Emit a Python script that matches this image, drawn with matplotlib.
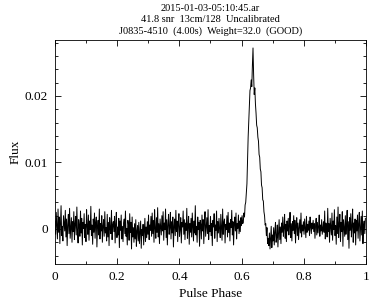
import numpy as np
import matplotlib
matplotlib.use("Agg")
import matplotlib.pyplot as plt
from matplotlib.ticker import MultipleLocator, FuncFormatter

# header lines of the archive plot
title_lines = ["2015-01-03-05:10:45.ar",
               "41.8 snr  13cm/128  Uncalibrated",
               "J0835-4510  (4.00s)  Weight=32.0  (GOOD)"]

# profile, 512 phase bins, flux in units of 1e-4
flux_e4 = [
    12, -8, 25, 3, -15, 30, -5, 18, -22, 7, 35, -10, 4, -18, 20, 9,
    -3, 28, -12, 15, -25, 6, 22, -7, 31, -14, 2, 17, -20, 11, -4, 26,
    -16, 8, 19, -9, 33, -2, -21, 14, 5, -11, 27, -6, 16, -24, 10, 1,
    23, -13, 7, -19, 29, 4, -8, 21, -17, 12, -1, 34, -10, 6, -23, 15,
    -5, 24, -14, 9, 18, -27, 3, 13, -9, 30, -15, 8, -3, 20, -20, 5,
    14, -11, 26, -6, 2, -18, 22, -12, 10, -25, 17, 0, -7, 28, -16, 6,
    11, -4, 19, -21, 8, 25, -13, 3, -9, 16, -28, 12, -2, 21, -15, 4,
    -19, 9, 15, -7, 27, -11, 1, -24, 13, 6, -17, 23, -5, 10, -30, 18,
    -12, 2, -20, 8, -15, 14, -26, -3, 5, -18, 10, -22, -6, 12, -29, -1,
    -10, 7, -24, -4, 16, -19, 3, -13, 11, -8, 21, -16, 6, -2, 19, -11,
    24, -7, 13, -20, 29, 1, -14, 17, -5, 32, -12, 8, -22, 15, 4, -9,
    20, -3, 26, -17, 9, -1, 30, -13, 14, -24, 7, 22, -8, 2, 25, -15,
    11, -6, 18, -27, 5, 15, -10, 28, -4, 12, -19, 6, 23, -11, 0, 17,
    -21, 10, 3, 27, -8, 14, -16, 9, -2, 31, -14, 5, 19, -23, 8, -5,
    16, -12, 24, 1, -18, 12, -6, 35, -9, 4, -20, 18, -1, 10, -26, 13,
    7, -15, 21, -3, 14, -22, 9, 26, -11, 2, 17, -7, 29, -16, 5, -4,
    19, -10, 8, -25, 13, 3, 23, -14, 6, -2, 27, -19, 11, -6, 16, 0,
    -13, 22, 4, -17, 30, -8, 10, 15, -21, 7, -1, 20, -12, 25, -5, 9,
    -18, 14, 2, 28, -9, 11, -24, 6, 18, -3, 24, -15, 8, 1, 21, -7,
    12, -4, 17, 5, 20, 8, 10, 24, 18, 36, 40, 55, 68, 104, 138, 160,
    182, 208, 212, 224, 214, 246, 272, 232, 202, 212, 188, 174, 156, 152, 138, 132,
    112, 108, 90, 86, 66, 62, 44, 42, 26, 20, 6, 8, -10, 2, -22, -14,
    -25, -6, -30, -12, 4, -28, -9, -18, 2, -24, -4, 10, -20, -13, 6, -27,
    -8, 14, -16, 3, -22, 9, -5, 18, -11, 1, 22, -14, 7, -19, 12, -3,
    16, -9, 5, 25, -13, 8, -18, 11, -2, 20, -7, 13, -21, 4, 17, -10,
    9, -16, 2, 14, -6, 24, -12, 6, -3, 11, -8, 15, 1, -13, 19, -5,
    7, -2, 12, -10, 18, 3, -7, 9, 0, 13, -4, 8, -14, 5, 16, -9,
    10, -6, 4, 21, -11, 6, -3, 14, -8, 2, 11, -5, 27, -15, 9, 1,
    -12, 31, -4, 8, -20, 16, 3, -9, 24, -17, 12, -1, 29, -10, 5, -23,
    18, -7, 33, -13, 7, 22, -19, 10, -4, 26, -26, 14, 2, -11, 20, -8,
    6, 28, -16, 11, -29, 17, -2, 23, -12, 4, 30, -20, 9, -6, 15, -24,
    13, -3, 21, -14, 8, 25, -18, 2, 19, -9, 27, -22, 5, 12, -7, 16,
]

flux = np.array(flux_e4) * 1e-4
phase = np.arange(len(flux)) / len(flux)

plt.rcParams['font.family'] = ['Liberation Serif', 'DejaVu Serif']

fig = plt.figure(figsize=(3.87, 3.06), dpi=100)
ax = fig.add_axes([0.1421, 0.1373, 0.8036, 0.732])

ax.plot(phase, flux, color='black', lw=0.7)

ax.set_xlim(0, 1)
ax.set_ylim(-0.00526, 0.0284)
ax.xaxis.set_major_locator(MultipleLocator(0.2))
ax.xaxis.set_minor_locator(MultipleLocator(0.1))
ax.yaxis.set_major_locator(MultipleLocator(0.01))
ax.yaxis.set_minor_locator(MultipleLocator(0.002))
ax.xaxis.set_major_formatter(FuncFormatter(lambda v, p: '%g' % round(v, 3)))
ax.yaxis.set_major_formatter(FuncFormatter(lambda v, p: '%g' % round(v, 4)))
ax.tick_params(which='both', direction='in', top=True, right=True,
               labelsize=9.5, width=0.6, pad=5)
ax.tick_params(which='major', length=4)
ax.tick_params(which='minor', length=2.5)
for s in ax.spines.values():
    s.set_linewidth(0.6)

ax.set_xlabel("Pulse Phase", fontsize=9.5, labelpad=4)
ax.set_ylabel("Flux", fontsize=9.5, labelpad=2)
ax.text(0.5, 1.02, "\n".join(title_lines), transform=ax.transAxes,
        ha='center', va='bottom', fontsize=7.5, linespacing=1.3)

fig.savefig("out.png", dpi=100)
